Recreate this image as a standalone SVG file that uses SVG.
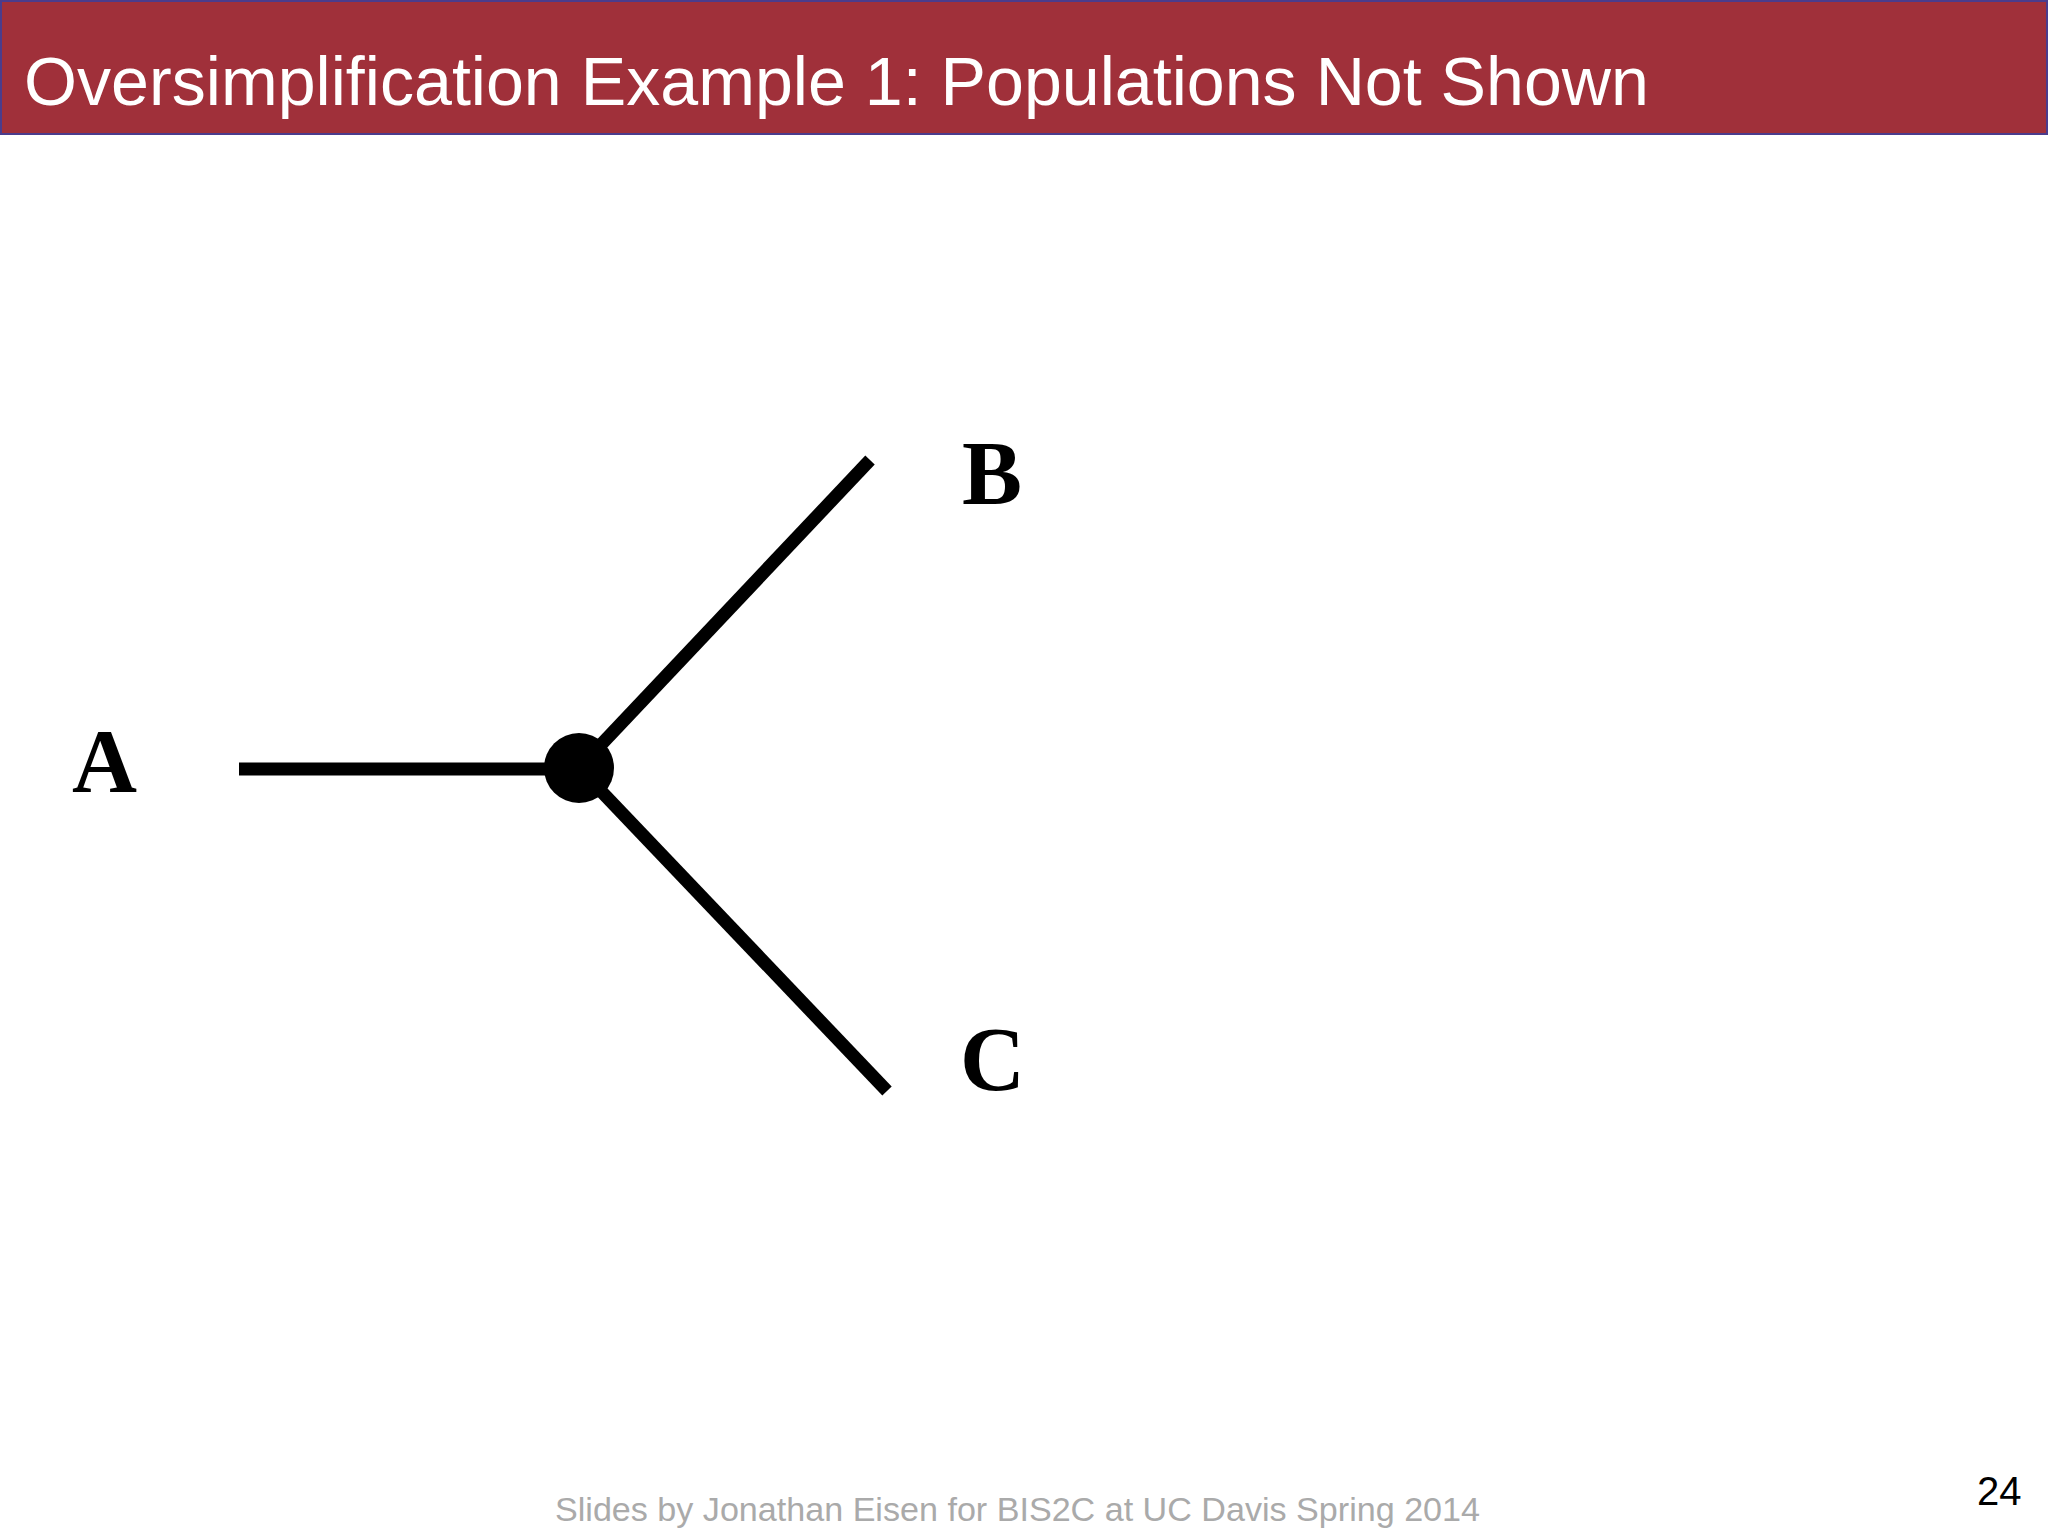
<svg xmlns="http://www.w3.org/2000/svg" width="2048" height="1536" viewBox="0 0 2048 1536">
<style>
.branch{stroke:#000;stroke-width:13;fill:none;stroke-linecap:butt}
.lbl{font-family:"Liberation Serif","Times New Roman",serif;font-weight:bold;font-size:90px;fill:#000}
</style>
<rect x="0" y="0" width="2048" height="1536" fill="#fff"/>
<g id="header">
<rect x="1" y="1" width="2046" height="133" fill="#A0303A" stroke="#4B3C8C" stroke-width="2"/>
<text x="24" y="105" font-family="Liberation Sans, Arial, sans-serif" font-size="69" fill="#fff" textLength="1625" lengthAdjust="spacingAndGlyphs">Oversimplification Example 1: Populations Not Shown</text>
</g>
<g id="connectors">
<line class="branch" x1="239" y1="769" x2="579" y2="769"/>
<line class="branch" x1="579" y1="768" x2="870" y2="460"/>
<line class="branch" x1="579" y1="768" x2="887" y2="1091"/>
</g>
<g id="node-root"><circle cx="579" cy="768" r="35" fill="#000"/></g>
<g id="node-A"><text class="lbl" x="72" y="792">A</text></g>
<g id="node-B"><text class="lbl" x="962" y="504">B</text></g>
<g id="node-C"><text class="lbl" x="960" y="1090">C</text></g>
<g id="footer">
<text x="555" y="1521" font-family="Liberation Sans, Arial, sans-serif" font-size="34" fill="#AAAAAA" textLength="925" lengthAdjust="spacingAndGlyphs">Slides by Jonathan Eisen for BIS2C at UC Davis Spring 2014</text>
<text x="1977" y="1505" font-family="Liberation Sans, Arial, sans-serif" font-size="40" fill="#000">24</text>
</g>
</svg>
